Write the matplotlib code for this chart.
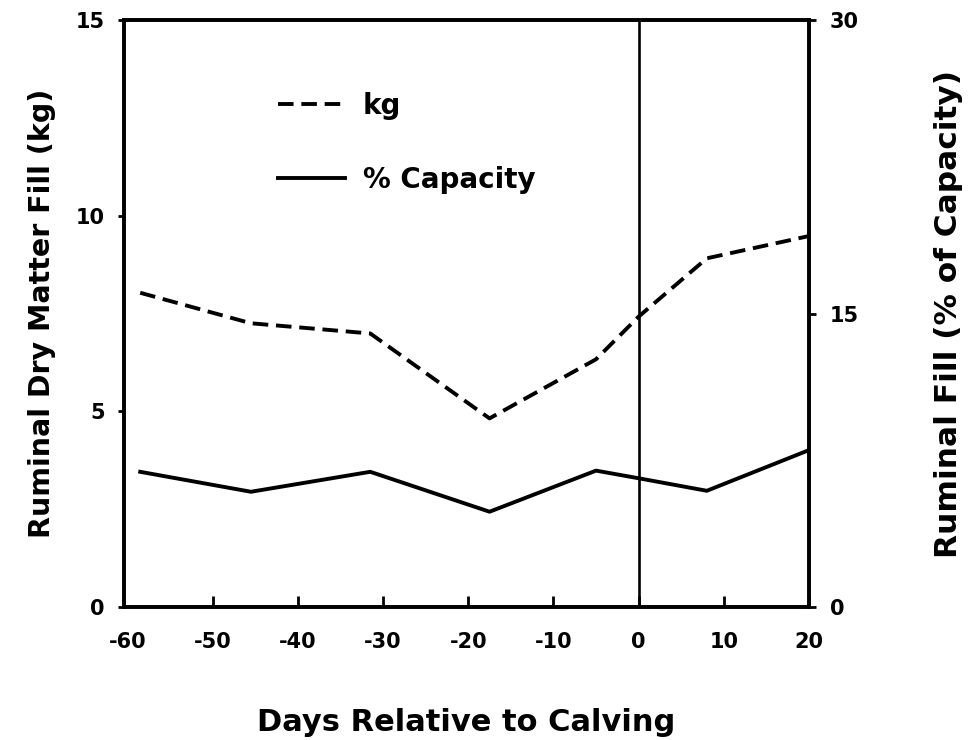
import matplotlib
matplotlib.use("Agg")
import matplotlib.pyplot as plt

plt.rcParams["font.family"] = ["DejaVu Sans"]
plt.rcParams["font.weight"] = "bold"

days = [-58.5, -45.5, -31.5, -17.5, -5, 0, 8, 20]
kg_fill = [8.03, 7.25, 6.99, 4.82, 6.33, 7.42, 8.91, 9.48]
pct_capacity = [6.91, 5.89, 6.91, 4.87, 6.97, 6.58, 5.94, 8.02]

x_ticks = [-60, -50, -40, -30, -20, -10, 0, 10, 20]
left_ticks = [0, 5, 10, 15]
right_ticks = [0, 15, 30]

fig = plt.figure(figsize=(9.71, 7.40), dpi=100)
ax = fig.add_axes([0.1277, 0.1797, 0.7055, 0.7933])
ax2 = ax.twinx()

ax.plot(days, kg_fill, color="black", linewidth=2.8,
        linestyle=(0, (4, 2)), label="kg")
ax2.plot(days, pct_capacity, color="black", linewidth=2.8,
         label="% Capacity")
ax.axvline(0, color="black", linewidth=1.9)

ax.set_xlim(-60.4, 20)
ax.set_ylim(0, 15)
ax2.set_ylim(0, 30)

ax.set_xticks(x_ticks)
ax.set_xticklabels([str(t) for t in x_ticks])
ax.set_yticks(left_ticks)
ax2.set_yticks(right_ticks)

ax.tick_params(axis="x", direction="in", length=8, width=2, pad=18,
               labelsize=15)
ax.tick_params(axis="y", direction="out", length=4, width=2, pad=10,
               labelsize=15)
ax2.tick_params(axis="y", direction="out", length=5, width=2, pad=10,
                labelsize=15)
# no tick mark at -60, it sits on the left spine
ax.xaxis.get_major_ticks()[0].tick1line.set_visible(False)

for a in (ax, ax2):
    for s in a.spines.values():
        s.set_linewidth(2.6)

ax.set_ylabel("Ruminal Dry Matter Fill (kg)", fontsize=20.5,
              fontweight="bold", labelpad=14)
ax2.set_ylabel("Ruminal Fill (% of Capacity)", fontsize=22.5,
               fontweight="bold", labelpad=54)
ax.set_xlabel("Days Relative to Calving", fontsize=22,
              fontweight="bold", labelpad=40)

h1, l1 = ax.get_legend_handles_labels()
h2, l2 = ax2.get_legend_handles_labels()
ax.legend(h1 + h2, l1 + l2, loc="upper left",
          bbox_to_anchor=(0.2248, 0.878), borderaxespad=0, borderpad=0,
          frameon=False, fontsize=20, handlelength=2.4,
          labelspacing=1.66, handletextpad=0.65)

fig.savefig("out.png", dpi=100)
